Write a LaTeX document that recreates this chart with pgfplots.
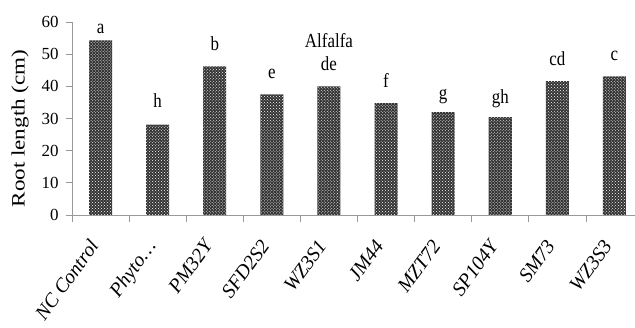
\documentclass[border=0pt]{standalone}
\usepackage{pgfplots}
\pgfplotsset{compat=1.18}
\usepackage{fontspec}
\setmainfont{Liberation Serif}
\newfontfamily\cond[FakeStretch=0.85]{Liberation Serif}
\newfontfamily\wide[FakeStretch=1.22]{Liberation Serif}
\usetikzlibrary{patterns,calc}
\pgfplotstableread{
x y
0 54.3
1 28.1
2 46.2
3 37.5
4 40.0
5 34.8
6 32.0
7 30.4
8 41.6
9 43.1
}\bars
\pgfplotstableread{
x y lab
0 56.4 a
1 33.5 h
2 51.0 b
3 42.4 e
4 45.0 de
4 52.2 Alfalfa
5 39.6 f
6 35.8 g
7 34.8 gh
8 46.5 cd
9 48.1 c
}\labs
\begin{document}
\begin{tikzpicture}
\begin{axis}[
  name=ax,
  scale only axis, width=563bp, height=193bp,
  xmin=-0.5, xmax=9.36, ymin=0, ymax=60,
  axis x line=bottom, axis y line=left,
  axis line style={-, draw=gray!80, line width=0.8pt},
  clip=false,
  ytick={0,10,...,60},
  /pgf/number format/assume math mode=true,
  yticklabel style={font=\fontsize{17}{17}\selectfont, xshift=-4bp},
  tick style={draw=gray!80, line width=0.8pt},
  tick align=outside,
  major tick length=6bp,
  xtick={0,...,9},
  xticklabels={NC Control,Phyto\ldots,PM32Y,SFD2S2,WZ3S1,JM44,MZT72,SP104Y,SM73,WZ3S3},
  x tick style={draw=none},
  minor xtick={-0.5,0.5,...,8.5},
  minor x tick style={draw=gray!80, line width=0.8pt},
  minor tick length=7bp,
  xticklabel style={font=\itshape\fontsize{20}{20}\selectfont, rotate=54, anchor=north east, inner sep=1pt, xshift=-20bp, yshift=1bp},
  ylabel={\wide\fontsize{19}{19}\selectfont Root length (cm)},
  ylabel style={at={(axis description cs:0,0.5)}, anchor=center, yshift=52bp, xshift=-10bp},
]
\addplot[ybar, bar width=23bp, bar shift=0pt, draw=none, fill=black!80,
  postaction={pattern=crosshatch dots, pattern color=white}] table[x=x,y=y] {\bars};
\addplot[draw=none, mark=none, nodes near coords, point meta=explicit symbolic,
  every node near coord/.style={anchor=base, inner sep=0pt, font=\cond\fontsize{20}{20}\selectfont}]
  table[x=x,y=y,meta=lab] {\labs};
\end{axis}
\pgfresetboundingbox
\path[use as bounding box] ($(ax.south west)+(-72bp,-113bp)$) rectangle ($(ax.north east)+(0bp,22bp)$);
\end{tikzpicture}
\end{document}
